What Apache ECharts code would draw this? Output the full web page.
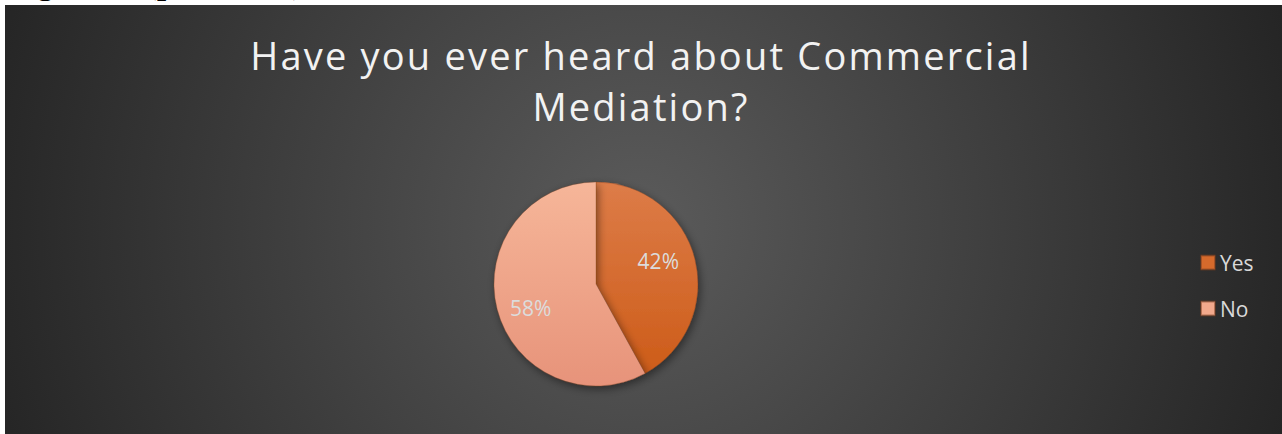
<!DOCTYPE html>
<html>
<head>
<meta charset="utf-8">
<script src="https://cdn.jsdelivr.net/npm/echarts@6/dist/echarts.min.js"></script>
<style>
  html, body { margin: 0; padding: 0; background: #ffffff; }
  #chart { width: 1282px; height: 434px; }
  /* spaced-out heading lettering */
  #chart text[style*="38px"][style*="Open Sans"] { letter-spacing: 2.2px; }
</style>
</head>
<body>
<div id="chart"></div>
<script>
// Survey answers
const answers = ['Yes', 'No'];
const shares = [42, 58];
const titleLines = ['Have you ever heard about Commercial', 'Mediation?'];
const captionText = 'Figure 2 (pie chart)';

// Slice fills (top -> bottom of the pie), legend swatches and label nudges
const sliceFills = [
  ['#dd7c48', '#cc5a16'],
  ['#f6b699', '#e7937a']
];
const swatchFills = ['#d66a2c', '#f2a98c'];
const labelNudge = [[10, -10], [-13, 11]];

const PIE_CX = 596, PIE_CY = 284, PIE_R = 102;

function fillFor(i) {
  return {
    type: 'linear', global: true,
    x: 0, y: PIE_CY - PIE_R, x2: 0, y2: PIE_CY + PIE_R,
    colorStops: [
      { offset: 0, color: sliceFills[i][0] },
      { offset: 1, color: sliceFills[i][1] }
    ]
  };
}

const chart = echarts.init(document.getElementById('chart'), null, { renderer: 'svg' });

chart.setOption({
  animation: false,
  backgroundColor: '#ffffff',
  title: {
    text: titleLines.join('\n'),
    left: 'center',
    top: 24,
    textStyle: {
      fontFamily: 'Open Sans',
      fontSize: 38,
      fontWeight: 'normal',
      color: '#f2f2f2',
      lineHeight: 51
    }
  },
  legend: {
    orient: 'vertical',
    left: 1200,
    top: 252,
    padding: 0,
    itemWidth: 14,
    itemHeight: 14,
    itemGap: 25,
    icon: 'rect',
    textStyle: { fontFamily: 'Open Sans', fontSize: 21, color: '#d9d9d9' },
    data: answers.map((a, i) => ({ name: a, itemStyle: { color: swatchFills[i] } }))
  },
  graphic: [
    {
      // document caption above the chart frame; only its descenders peek out
      type: 'text',
      z: -20,
      x: 3,
      y: -21.5,
      style: {
        text: captionText,
        font: '39px "Liberation Serif"',
        verticalAlign: 'middle',
        fill: '#000000'
      }
    },
    {
      type: 'rect',
      z: -10,
      shape: { x: 5, y: 5, width: 1277, height: 429 },
      style: {
        fill: {
          type: 'radial', global: true,
          x: 640, y: 225, r: 700,
          colorStops: [
            { offset: 0, color: '#5b5b5b' },
            { offset: 1, color: '#232323' }
          ]
        }
      }
    }
  ],
  series: [{
    type: 'pie',
    center: [PIE_CX, PIE_CY],
    radius: PIE_R,
    startAngle: 90,
    clockwise: true,
    avoidLabelOverlap: false,
    emphasis: { disabled: true },
    itemStyle: {
      shadowBlur: 8,
      shadowOffsetX: 2,
      shadowOffsetY: 3,
      shadowColor: 'rgba(0,0,0,0.45)',
      borderWidth: 0.6,
      borderColor: 'rgba(120,60,30,0.5)'
    },
    label: {
      show: true,
      position: 'inside',
      fontFamily: 'Open Sans',
      fontSize: 21,
      color: '#dcdcdc',
      formatter: p => p.value + '%'
    },
    labelLine: { show: false },
    data: answers.map((a, i) => ({
      name: a,
      value: shares[i],
      itemStyle: { color: fillFor(i) },
      label: { offset: labelNudge[i] }
    }))
  }]
});
</script>
</body>
</html>
